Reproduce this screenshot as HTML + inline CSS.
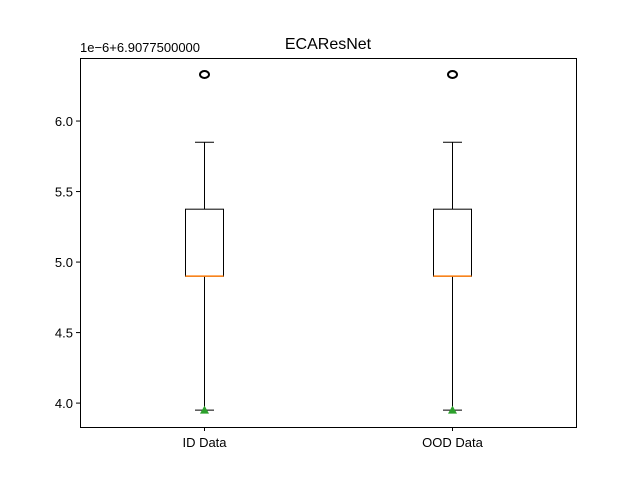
<!DOCTYPE html>
<html><head><meta charset="utf-8"><style>body{margin:0;background:#fff}svg{font-family:"Liberation Sans","DejaVu Sans",sans-serif}</style></head>
<body>
<svg id="chart" width="640" height="480" xmlns="http://www.w3.org/2000/svg">
<rect width="640" height="480" fill="#fff"/>
<text x="328" y="49" font-size="16" text-anchor="middle">ECAResNet</text>
<text x="80" y="52" font-size="13">1e−6+6.9077500000</text>
<g id="plot"></g>
<rect x="80.5" y="58.5" width="496" height="369" fill="none" stroke="#000" stroke-width="1"/>
</svg>
<script>
const categories = ["ID Data", "OOD Data"];
const q1 = [4.9, 4.9];
const q3 = [5.375, 5.375];
const medians = [4.9, 4.9];
const whiskerLow = [3.95, 3.95];
const whiskerHigh = [5.85, 5.85];
const means = [3.95, 3.95];
const fliers = [[6.33], [6.33]];
const yTicks = [4.0, 4.5, 5.0, 5.5, 6.0];

const NS = "http://www.w3.org/2000/svg";
const g = document.getElementById("plot");
const yMin = 3.8305, yMax = 6.447;
const pTop = 58, pBottom = 427, pLeft = 80, pRight = 576;
function y(v){ return pBottom - (v - yMin) / (yMax - yMin) * (pBottom - pTop); }
function x(i){ return pLeft + (i + 0.5) / categories.length * (pRight - pLeft) + 0.5; }
function el(tag, attrs){ const e = document.createElementNS(NS, tag); for (const k in attrs) e.setAttribute(k, attrs[k]); g.appendChild(e); return e; }

yTicks.forEach(t => {
  const yy = y(t);
  const l = el("line", {x1: pLeft - 4, x2: pLeft, y1: yy, y2: yy, stroke: "#000"});
  
  
  const tx = el("text", {x: pLeft - 7, y: yy + 5, "font-size": 13, "text-anchor": "end"});
  tx.textContent = t.toFixed(1);
  
  
});

categories.forEach((c, i) => {
  const cx = x(i), hw = 19, cw = 9.5;
  const tk = el("line", {x1: cx, x2: cx, y1: pBottom, y2: pBottom + 4, stroke: "#000"});
  
  
  const lb = el("text", {x: cx, y: pBottom + 20, "font-size": 13, "text-anchor": "middle"});
  lb.textContent = c;
  
  
  const w1 = el("line", {x1: cx, x2: cx, y1: y(q1[i]), y2: y(whiskerLow[i]), stroke: "#000"});
  
  
  const w2 = el("line", {x1: cx, x2: cx, y1: y(q3[i]), y2: y(whiskerHigh[i]), stroke: "#000"});
  
  
  const c1 = el("line", {x1: cx - cw, x2: cx + cw, y1: y(whiskerLow[i]), y2: y(whiskerLow[i]), stroke: "#000"});
  
  
  const c2 = el("line", {x1: cx - cw, x2: cx + cw, y1: y(whiskerHigh[i]), y2: y(whiskerHigh[i]), stroke: "#000"});
  
  
  const b = el("rect", {x: cx - hw, y: y(q3[i]), width: 2 * hw, height: y(q1[i]) - y(q3[i]), fill: "none", stroke: "#000"});
  
  
  const m = el("line", {x1: cx - hw, x2: cx + hw, y1: y(medians[i]), y2: y(medians[i]), stroke: "#ff7f0e", "stroke-width": 1.5});
  
  
  const my = y(means[i]);
  const tri = el("polygon", {points: `${cx},${my-4.5} ${cx-4.5},${my+3.5} ${cx+4.5},${my+3.5}`, fill: "#2ca02c"});
  
  
  fliers[i].forEach(f => {
    const fc = el("ellipse", {cx: cx, cy: y(f), rx: 4.5, ry: 3.5, fill: "none", stroke: "#000", "stroke-width": 2});
    
    
  });
});
</script>
</body></html>
